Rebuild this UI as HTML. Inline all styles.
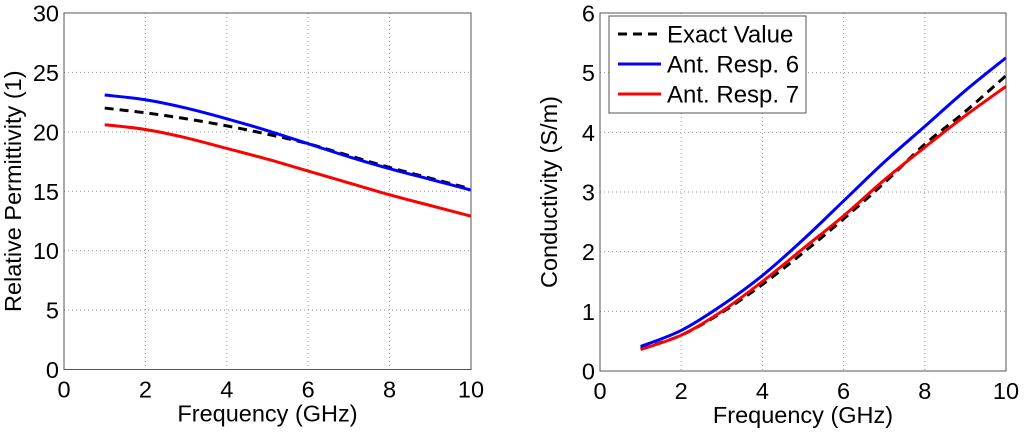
<!DOCTYPE html>
<html><head><meta charset="utf-8"><style>
body{margin:0;background:#fff;width:1024px;height:430px;overflow:hidden}
svg{font-family:"Liberation Sans",Arial,sans-serif}
</style></head><body>
<svg id="c" width="1024" height="430"></svg>
<script>
const freqs=[1,2,3,4,5,6,7,8,9,10];
const permExact=[22.0,21.6,21.1,20.5,19.8,19.0,18.0,17.0,16.1,15.2];
const permResp6=[23.1,22.7,22.0,21.1,20.1,19.0,17.9,16.9,16.0,15.1];
const permResp7=[20.6,20.2,19.5,18.6,17.7,16.7,15.7,14.7,13.8,12.9];
const condExact=[0.37,0.6,0.98,1.45,1.98,2.55,3.15,3.8,4.35,4.95];
const condResp6=[0.41,0.68,1.1,1.6,2.2,2.85,3.5,4.1,4.7,5.25];
const condResp7=[0.36,0.6,1.0,1.5,2.05,2.6,3.2,3.75,4.28,4.77];
const xTicks=[0,2,4,6,8,10];
const permTicks=[0,5,10,15,20,25,30];
const condTicks=[0,1,2,3,4,5,6];
const legendLabels=["Exact Value","Ant. Resp. 6","Ant. Resp. 7"];

const NS="http://www.w3.org/2000/svg";
const svg=document.getElementById('c');
const FS=23.5;
function mk(tag,attrs,parent,text){const e=document.createElementNS(NS,tag);for(const k in attrs)e.setAttribute(k,attrs[k]);if(text!==undefined)e.textContent=text;(parent||svg).appendChild(e);return e;}
function path(pts){let d=`M${pts[0][0]},${pts[0][1]}`;for(let i=0;i<pts.length-1;i++){const p0=pts[i-1]||pts[i],p1=pts[i],p2=pts[i+1],p3=pts[i+2]||p2;d+=` C${p1[0]+(p2[0]-p0[0])/6},${p1[1]+(p2[1]-p0[1])/6} ${p2[0]-(p3[0]-p1[0])/6},${p2[1]-(p3[1]-p1[1])/6} ${p2[0]},${p2[1]}`;}return d;}

function panel(name,L,R,T,B,ymax,yTicks,ylabel,series){
  const g=mk('g',{});
  
  
  const X=v=>L+(v-0)/10*(R-L), Y=v=>B-v/ymax*(B-T);
  xTicks.forEach(t=>{
    if(t>0&&t<10){const l=mk('line',{x1:X(t),x2:X(t),y1:T,y2:B,stroke:'#999','stroke-dasharray':'1,3','stroke-width':1},g);}
    const tx=mk('text',{x:X(t),y:B+28,'text-anchor':'middle','font-size':FS},g,String(t));
    
  });
  yTicks.forEach(t=>{
    if(t>0&&t<ymax){const l=mk('line',{x1:L,x2:R,y1:Y(t),y2:Y(t),stroke:'#999','stroke-dasharray':'1,3','stroke-width':1},g);}
    const tx=mk('text',{x:L-5,y:Y(t)+8.5,'text-anchor':'end','font-size':FS},g,String(t));
    
  });
  series.forEach(s=>{
    const p=mk('path',{d:path(freqs.map((f,i)=>[X(f),Y(s.v[i])])),fill:'none',stroke:s.c,'stroke-width':3,'stroke-dasharray':s.dash||'none'},g);
    
  });
  const fr=mk('rect',{x:L,y:T,width:R-L,height:B-T,fill:'none',stroke:'#555','stroke-width':1},g);
  
  const xl=mk('text',{x:(L+R)/2,y:B+52,'text-anchor':'middle','font-size':FS},g,'Frequency (GHz)');
  
  const yl=mk('text',{x:0,y:0,'text-anchor':'middle','font-size':FS,transform:`translate(${L-43},${(T+B)/2}) rotate(-90)`},g,ylabel);
  
  return g;
}
panel('permittivity-panel',64,471,13,369.5,30,permTicks,'Relative Permittivity (1)',[
  {n:'exact-value-line',v:permExact,c:'#000',dash:'9,6'},
  {n:'ant-resp-6-line',v:permResp6,c:'#0000ff'},
  {n:'ant-resp-7-line',v:permResp7,c:'#ff0000'}]);
panel('conductivity-panel',600,1006,13,371,6,condTicks,'Conductivity (S/m)',[
  {n:'exact-value-line',v:condExact,c:'#000',dash:'9,6'},
  {n:'ant-resp-6-line',v:condResp6,c:'#0000ff'},
  {n:'ant-resp-7-line',v:condResp7,c:'#ff0000'}]);
const lg=mk('g',{});


mk('rect',{x:609,y:16,width:197,height:97,fill:'#fff',stroke:'#555','stroke-width':1},lg);
const cols=['#000','#0000ff','#ff0000'];
legendLabels.forEach((lab,i)=>{
  const y=34+i*30;
  const e=mk('g',{},lg);
  
  
  mk('line',{x1:618,x2:661,y1:y,y2:y,stroke:cols[i],'stroke-width':3,'stroke-dasharray':i==0?'9,6':'none'},e);
  mk('text',{x:667,y:y+8.5,'font-size':24},e,lab);
});
</script>
</body></html>
